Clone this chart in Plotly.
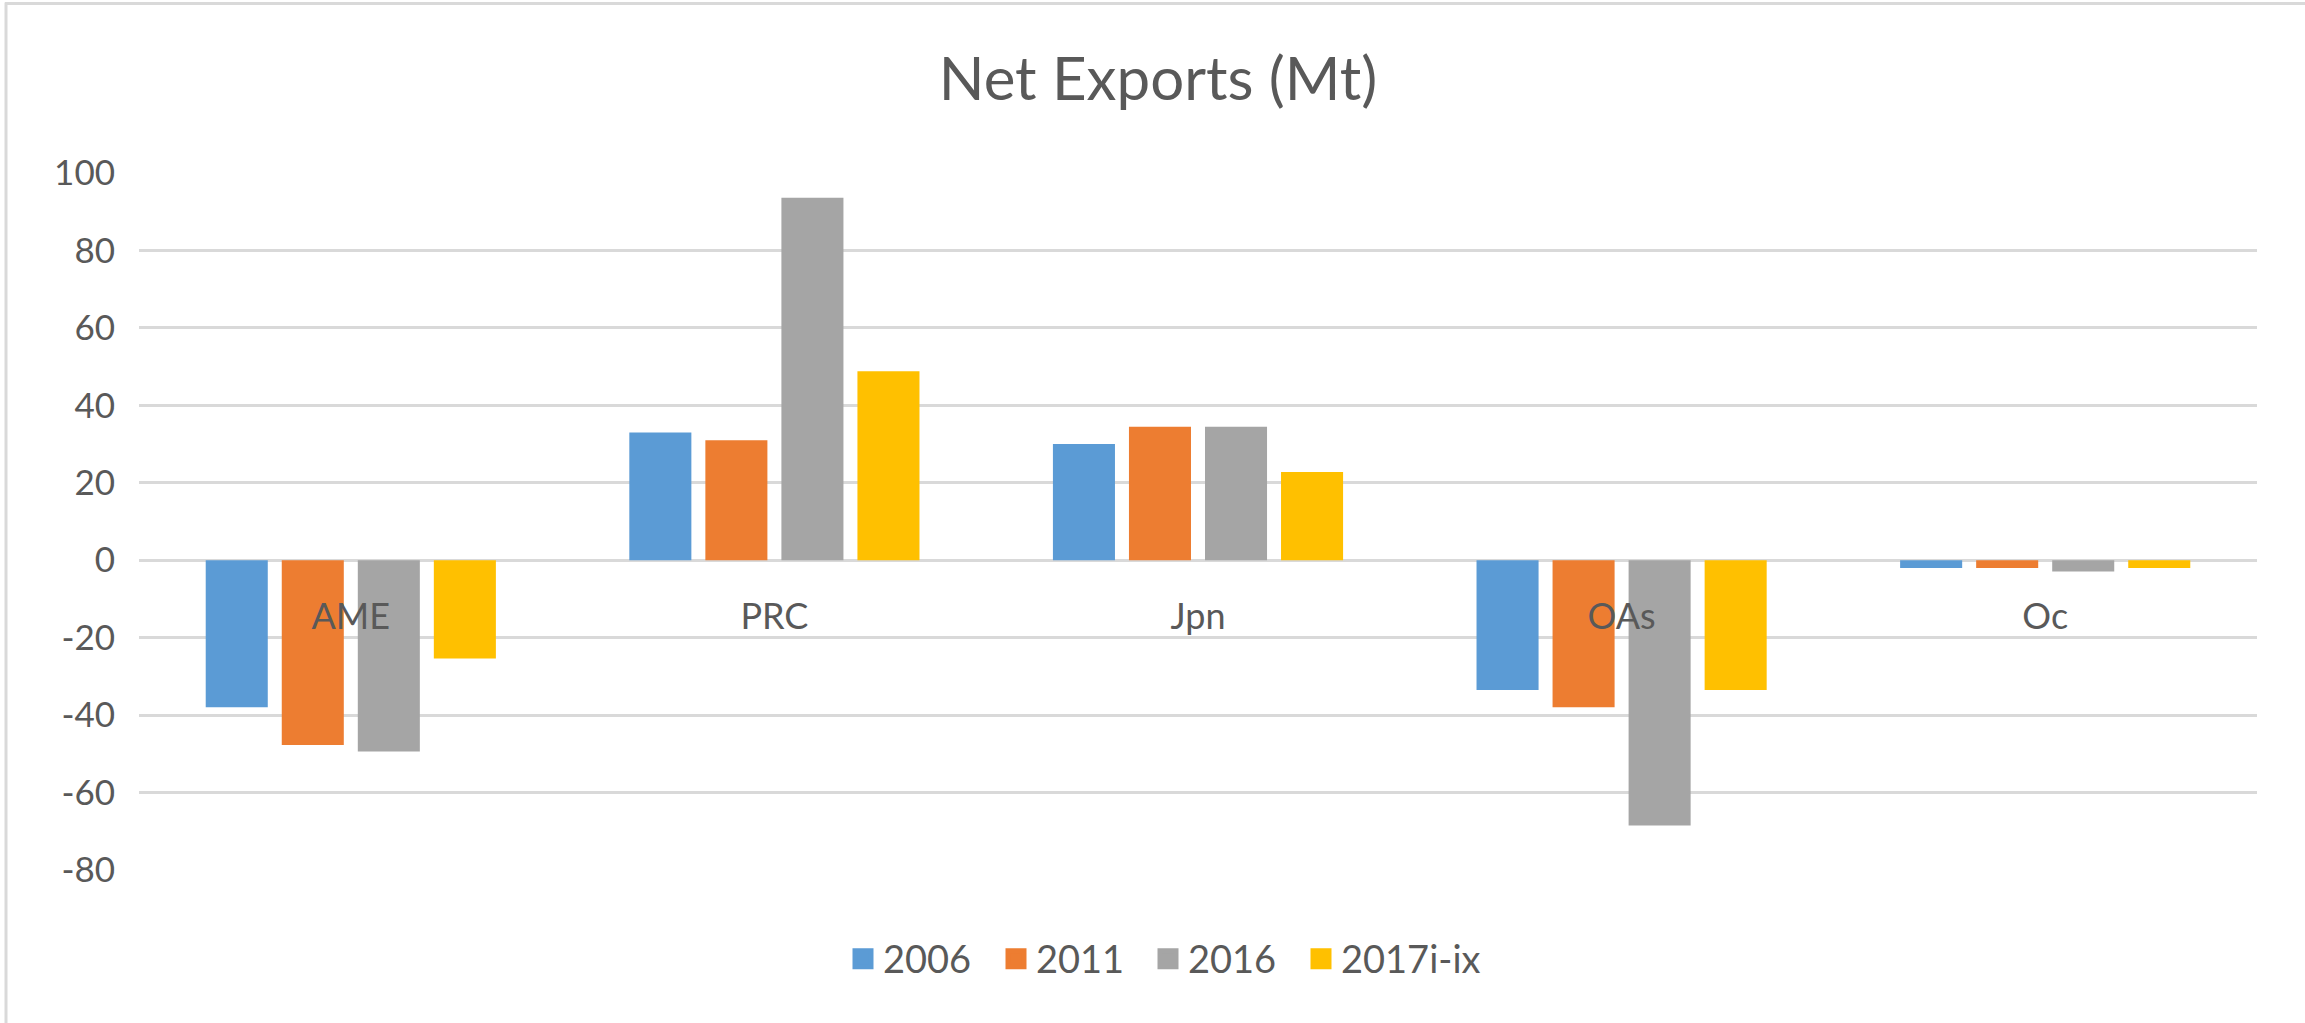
import plotly.graph_objects as go

categories = ["AME", "PRC", "Jpn", "OAs", "Oc"]
series_names = ["2006", "2011", "2016", "2017i-ix"]
v2006 = [-38, 33, 30, -33.5, -2]
v2011 = [-47.7, 31, 34.5, -38, -2]
v2016 = [-49.4, 93.6, 34.5, -68.5, -2.9]
v2017 = [-25.4, 48.8, 22.8, -33.5, -2]
colors = ["#5B9BD5", "#ED7D31", "#A5A5A5", "#FFC000"]
tick_vals = [-80, -60, -40, -20, 0, 20, 40, 60, 80, 100]
tick_text = [str(v) for v in tick_vals]

W, H = 2305, 1023
L, R, T, B = 139, 48, 172.5, 153
pw, ph = W - L - R, H - T - B

def px_x(x):
    return (x - L) / pw

def px_y(y):
    return (H - B - y) / ph

FONT = "Lato"
GREY = "#595959"
GRID = "#D9D9D9"

fig = go.Figure()
for name, vals, col in zip(series_names, [v2006, v2011, v2016, v2017], colors):
    fig.add_trace(go.Bar(x=categories, y=vals, name=name, showlegend=False,
                         marker=dict(color=col, line=dict(width=0))))

# legend entries with larger square swatches, one legend box per entry
legend_ids = ["legend", "legend2", "legend3", "legend4"]
swatch_left = [852, 1005, 1157, 1310]
legend_layout = {}
for name, col, lid, sx in zip(series_names, colors, legend_ids, swatch_left):
    fig.add_trace(go.Scatter(x=[None], y=[None], mode="markers", name=name, legend=lid,
                             marker=dict(symbol="square", size=16, color=col,
                                         line=dict(color=col, width=5))))
    legend_layout[lid] = dict(orientation="h", x=px_x(sx - 9), xanchor="left",
                              y=px_y(959), yanchor="middle", bgcolor="rgba(0,0,0,0)",
                              font=dict(family=FONT, size=38, color=GREY), itemwidth=30)

fig.update_layout(
    width=W, height=H,
    margin=dict(l=L, r=R, t=T, b=B, autoexpand=False),
    paper_bgcolor="white", plot_bgcolor="white",
    barmode="group", bargap=0.282, bargroupgap=0.184,
    font=dict(family=FONT, color=GREY, size=35),
    title=dict(text="Net Exports (Mt)", x=1158 / W, xanchor="center",
               y=1 - 79 / H, yanchor="middle", yref="container",
               font=dict(family=FONT, size=60, color=GREY)),
    showlegend=True,
    xaxis=dict(anchor="free", position=80 / 180, showline=False, ticks="",
               showgrid=False, zeroline=False, tickfont=dict(size=36, color=GREY),
               ticklabelstandoff=32),
    yaxis=dict(range=[-80, 100], tickvals=tick_vals, ticktext=tick_text, showgrid=True,
               gridcolor=GRID, gridwidth=2.5, zeroline=True, zerolinecolor=GRID,
               zerolinewidth=2.5, showline=False, ticks="",
               tickfont=dict(size=35, color=GREY), ticklabelstandoff=23),
    **legend_layout,
)

# chart border (left and top edges visible)
fig.add_shape(type="line", xref="paper", yref="paper", x0=px_x(6), x1=px_x(6), y0=px_y(2), y1=px_y(H + 5),
              line=dict(color=GRID, width=3), layer="below")
fig.add_shape(type="line", xref="paper", yref="paper", x0=px_x(5), x1=px_x(W + 5), y0=px_y(3), y1=px_y(3),
              line=dict(color=GRID, width=3), layer="below")

fig.write_html("out.html", config={"displayModeBar": False},
               post_script="document.body.style.margin='0';")
